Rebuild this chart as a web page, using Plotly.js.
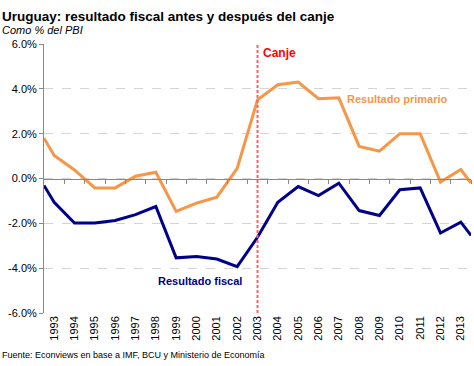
<!DOCTYPE html>
<html><head><meta charset="utf-8">
<script src="https://cdn.plot.ly/plotly-3.0.1.min.js"></script>
<style>body{margin:0;background:#fff}#chart{width:474px;height:366px}</style>
</head><body><div id="chart"></div>
<script>
// x positions: half-year edge points at both ends, then yearly values
const years = [1992.5,1993,1994,1995,1996,1997,1998,1999,2000,2001,2002,2003,2004,2005,2006,2007,2008,2009,2010,2011,2012,2013,2013.5];
const primario = [1.8,1.03,0.38,-0.42,-0.42,0.1,0.28,-1.47,-1.1,-0.83,0.45,3.51,4.18,4.3,3.56,3.6,1.43,1.22,2.0,2.0,-0.16,0.4,-0.2];
const fiscal = [-0.31,-1.06,-1.99,-1.99,-1.87,-1.61,-1.25,-3.54,-3.48,-3.59,-3.93,-2.62,-1.06,-0.36,-0.76,-0.21,-1.43,-1.65,-0.5,-0.42,-2.43,-1.95,-2.54];
const tickYears = [1993,1994,1995,1996,1997,1998,1999,2000,2001,2002,2003,2004,2005,2006,2007,2008,2009,2010,2011,2012,2013];
const tickLabels = tickYears.map(String);
const yTicks = [-6,-4,-2,0,2,4,6];
const yTickLabels = ['-6.0%','-4.0%','-2.0%','0.0%','2.0%','4.0%','6.0%'];
const canjeYear = 2003;

const F = 'Liberation Sans, Arial, sans-serif';
const traces = [
  {x: years, y: primario, mode:'lines', line:{color:'#F79646', width:3}, hoverinfo:'skip'},
  {x: years, y: fiscal, mode:'lines', line:{color:'#00008B', width:3}, hoverinfo:'skip'},
  {x: years, y: fiscal, xaxis:'x2', mode:'lines', line:{width:0}, opacity:0, hoverinfo:'skip'}
];
const layout = {
  width:474, height:366, showlegend:false,
  paper_bgcolor:'#fff', plot_bgcolor:'#fff',
  margin:{l:44, r:3, t:44, b:53},
  font:{family:F, size:11, color:'#000'},
  xaxis:{range:[1992.5,2013.5], tickmode:'array', tickvals:tickYears, ticktext:tickLabels,
    tickangle:-90, ticks:'', showgrid:false, zeroline:false, showline:false,
    tickfont:{family:F, size:11, color:'#000'}},
  xaxis2:{range:[1992.5,2013.5], overlaying:'x', anchor:'free', position:0.5, side:'bottom',
    tickmode:'array', tickvals:tickYears.map(v=>v+0.5), showticklabels:false,
    ticks:'outside', ticklen:4, tickcolor:'#888', showline:true, linecolor:'#888', linewidth:1,
    showgrid:false, zeroline:false},
  yaxis:{range:[-6,6], tickmode:'array', tickvals:yTicks, ticktext:yTickLabels,
    ticks:'outside', ticklen:4, tickcolor:'#888', showline:true, linecolor:'#888', linewidth:1,
    showgrid:true, gridcolor:'#d4d4d4', griddash:'dash', gridwidth:1, zeroline:false,
    tickfont:{family:F, size:11, color:'#000'}},
  shapes:[{type:'line', xref:'x', yref:'paper', x0:canjeYear, x1:canjeYear, y0:0, y1:1,
    line:{color:'#FF6060', width:2, dash:'3px,2px'}, layer:'above'}],
  annotations:[
    {text:'<b>Uruguay: resultado fiscal antes y después del canje</b>', xref:'paper', yref:'paper',
     x:-44/427, y:1+ (44-16)/269, xanchor:'left', yanchor:'middle', showarrow:false,
     font:{family:F, size:13.5, color:'#000'}},
    {text:'<i>Como % del PBI</i>', xref:'paper', yref:'paper',
     x:-44/427, y:1+(44-30)/269, xanchor:'left', yanchor:'middle', showarrow:false,
     font:{family:F, size:11, color:'#000'}},
    {text:'Fuente: Econviews en base a IMF, BCU y Ministerio de Economía', xref:'paper', yref:'paper',
     x:-44/427, y:-(355-313)/269, xanchor:'left', yanchor:'middle', showarrow:false,
     font:{family:F, size:9, color:'#000'}},
    {text:'<b>Canje</b>', xref:'x', yref:'paper', x:canjeYear, y:1-(53-44)/269, xanchor:'left', xshift:3,
     yanchor:'middle', showarrow:false, font:{family:F, size:12, color:'#FF0000'}},
    {text:'<b>Resultado primario</b>', xref:'x', yref:'y', x:2007.3, y:3.53, xanchor:'left', yanchor:'middle',
     showarrow:false, font:{family:F, size:11, color:'#F79646'}},
    {text:'<b>Resultado fiscal</b>', xref:'x', yref:'y', x:1998.0, y:-4.55, xanchor:'left', yanchor:'middle',
     showarrow:false, font:{family:F, size:11, color:'#00008B'}}
  ]
};
Plotly.newPlot('chart', traces, layout, {staticPlot:true, displayModeBar:false});
</script></body></html>
